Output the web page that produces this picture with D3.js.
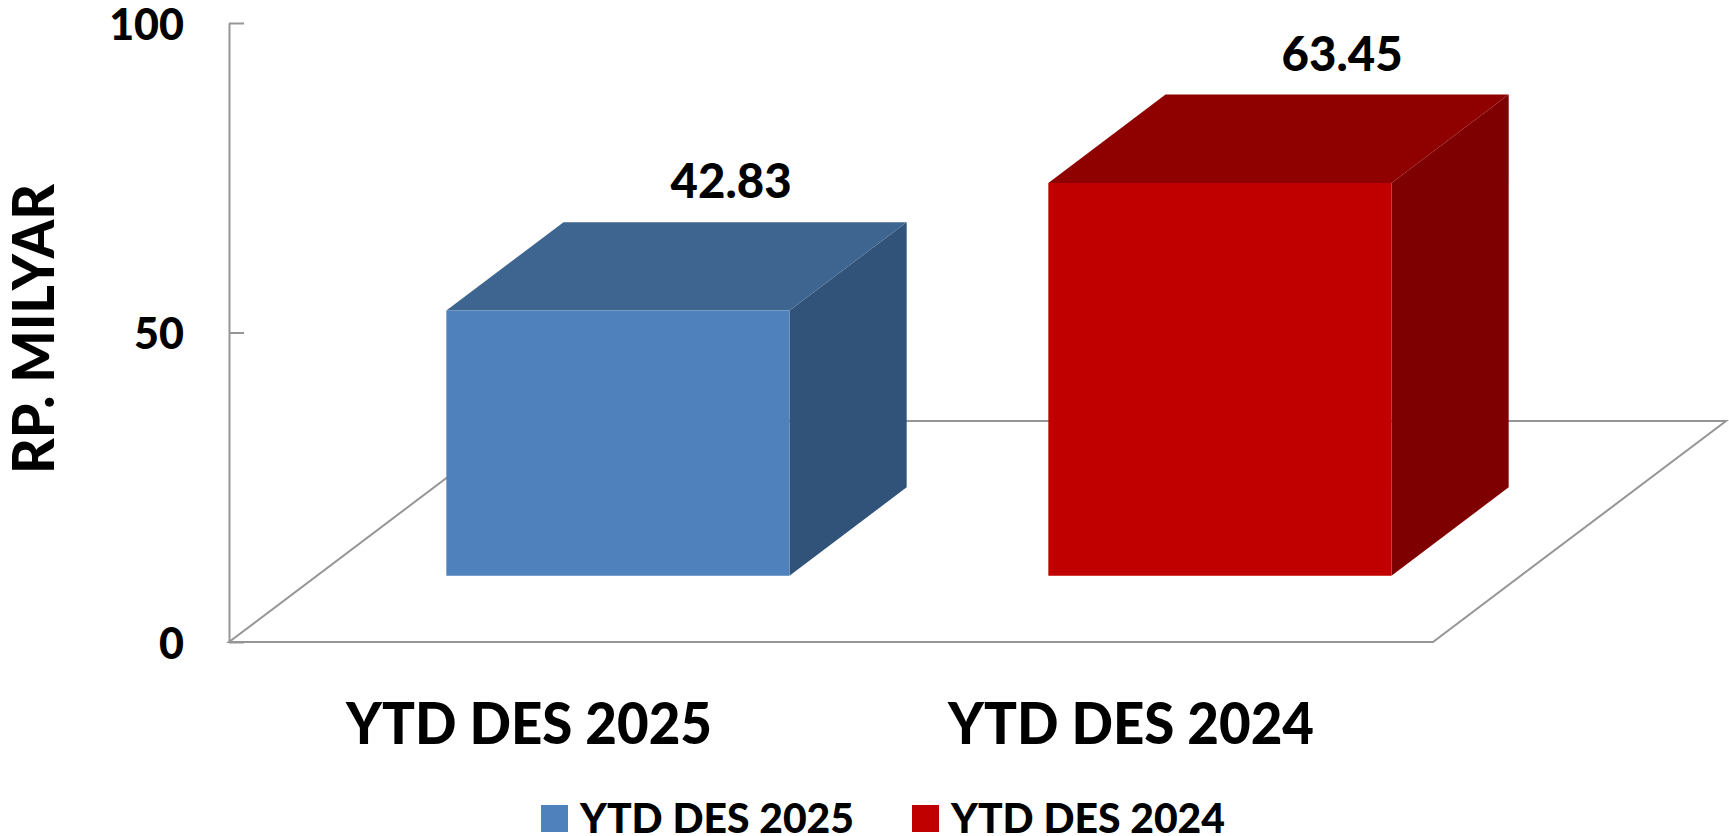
<!DOCTYPE html>
<html>
<head>
<meta charset="utf-8">
<script src="https://cdn.jsdelivr.net/npm/d3@7/dist/d3.min.js"></script>
<style>
html,body{margin:0;padding:0;background:#fff;overflow:hidden}
svg{display:block}
text{font-family:Lato,"Open Sans",sans-serif;font-weight:900;fill:#000}
</style>
</head>
<body>
<svg id="chart" width="1729" height="836"></svg>
<script>
const categories = ["YTD DES 2025", "YTD DES 2024"];
const values = [42.83, 63.45];
const valueLabels = ["42.83", "63.45"];
const yTicks = [0, 50, 100];
const yTitle = "RP. MILYAR";

const frontColors = ["#4F81BD", "#C00000"];
const topColors = ["#3E6490", "#8F0000"];
const sideColors = ["#325379", "#7F0000"];

// layout
const depthX = 293, depthY = -221, barFront = 0.3, barBack = 0.7;
const labelNudge = [-4, 5];

const svg = d3.select("#chart");
const x = d3.scaleBand().domain(categories).range([229, 1433]).paddingInner(0.43).paddingOuter(0.215);
const y = d3.scaleLinear().domain([0, 100]).range([642, 23]);
const project = (px, v, t) => [px + t * depthX, y(v) + t * depthY];
const poly = pts => pts.map(p => p.join(",")).join(" ");

// floor
svg.append("polygon")
  .attr("points", poly([project(x.range()[0], 0, 0), project(x.range()[1], 0, 0), project(x.range()[1], 0, 1), project(x.range()[0], 0, 1)]))
  .attr("fill", "#fff").attr("stroke", "#969696").attr("stroke-width", 2);

// axis
const axis = d3.axisLeft(y).tickValues(yTicks).tickSizeInner(-15).tickSizeOuter(0).tickPadding(45);
const gAxis = svg.append("g").attr("transform", `translate(${x.range()[0]},0)`).call(axis);
gAxis.select(".domain").attr("stroke", "#969696").attr("stroke-width", 2);
gAxis.selectAll(".tick line").attr("stroke", "#969696").attr("stroke-width", 2);
gAxis.selectAll(".tick text").attr("font-size", 43).attr("dy", "0.38em").attr("font-family", null).style("font-family", 'Lato,"Open Sans",sans-serif').style("font-weight", 900).style("fill", "#000");

// bars
const data = categories.map((c, i) => ({c, v: values[i], i}));
const bars = svg.append("g").selectAll("g").data(data).join("g");
bars.append("polygon").attr("fill", d => sideColors[d.i]).attr("points", d => {
  const r = x(d.c) + x.bandwidth();
  return poly([project(r, 0, barFront), project(r, d.v, barFront), project(r, d.v, barBack), project(r, 0, barBack)]);
});
bars.append("polygon").attr("fill", d => topColors[d.i]).attr("points", d => {
  const l = x(d.c), r = l + x.bandwidth();
  return poly([project(l, d.v, barFront), project(r, d.v, barFront), project(r, d.v, barBack), project(l, d.v, barBack)]);
});
bars.append("polygon").attr("fill", d => frontColors[d.i]).attr("points", d => {
  const l = x(d.c), r = l + x.bandwidth();
  return poly([project(l, 0, barFront), project(r, 0, barFront), project(r, d.v, barFront), project(l, d.v, barFront)]);
});

// value labels
bars.append("text")
  .attr("text-anchor", "middle").attr("font-size", 48)
  .attr("x", d => project(x(d.c) + x.bandwidth() / 2, d.v, barBack)[0] + labelNudge[d.i])
  .attr("y", d => project(0, d.v, barBack)[1] - 24)
  .attr("textLength", 121).attr("lengthAdjust", "spacingAndGlyphs")
  .text(d => valueLabels[d.i]);

// category labels
svg.append("g").selectAll("text").data(data).join("text")
  .attr("text-anchor", "middle").attr("font-size", 57)
  .attr("x", d => x(d.c) + x.bandwidth() / 2 - 1)
  .attr("y", 744)
  .attr("textLength", 366).attr("lengthAdjust", "spacingAndGlyphs")
  .text(d => d.c);

// y title
svg.append("text")
  .attr("transform", "translate(54,329) rotate(-90)")
  .attr("text-anchor", "middle").attr("font-size", 57)
  .attr("textLength", 290).attr("lengthAdjust", "spacingAndGlyphs")
  .text(yTitle);

// legend
const legendX = d3.scalePoint().domain(categories).range([541, 912]);
const leg = svg.append("g").selectAll("g").data(data).join("g")
  .attr("transform", d => `translate(${legendX(d.c)},805)`);
leg.append("rect").attr("width", 27).attr("height", 27).attr("fill", d => frontColors[d.i]);
leg.append("text").attr("x", 39).attr("y", 28).attr("font-size", 41)
  .attr("textLength", 274).attr("lengthAdjust", "spacingAndGlyphs")
  .text(d => d.c);
</script>
</body>
</html>
